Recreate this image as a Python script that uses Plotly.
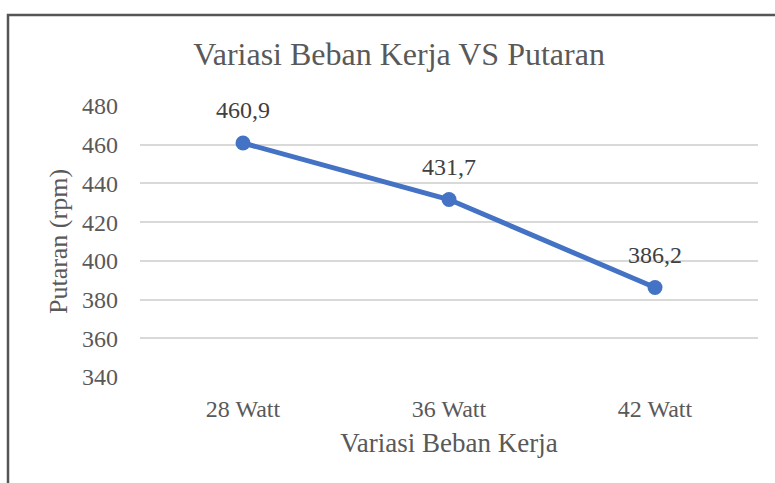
import plotly.graph_objects as go

categories = ["28 Watt", "36 Watt", "42 Watt"]
putaran = [460.9, 431.7, 386.2]
y_ticks = [340, 360, 380, 400, 420, 440, 460, 480]

txt = "#595959"
font = "'Liberation Serif', 'Times New Roman', Times, 'DejaVu Serif', serif"
fig = go.Figure()
fig.add_trace(go.Scatter(
    x=categories, y=putaran, mode="lines+markers",
    line=dict(color="#4472C4", width=5),
    marker=dict(size=15, color="#4472C4"),
    hoverinfo="skip", showlegend=False,
))
for c, v in zip(categories, putaran):
    fig.add_annotation(x=c, y=v, text=f"{v:.1f}".replace(".", ","),
                       showarrow=False, yshift=33,
                       font=dict(family=font, size=24, color="#404040"))

# outer frame (left and top edges)
fig.add_shape(type="path", xref="paper", yref="paper",
              path=f"M {(8-140)/618} {-(483-377)/271} L {(8-140)/618} {(377-15)/271} L {(775-140)/618} {(377-15)/271}",
              line=dict(color="#555555", width=2.5))

fig.update_layout(
    width=775, height=483,
    margin=dict(l=140, r=17, t=106, b=106),
    paper_bgcolor="white", plot_bgcolor="white",
    font=dict(family=font, color=txt),
    title=dict(text="Variasi Beban Kerja VS Putaran", x=399/775, xanchor="center",
               y=1 - 54/483, yanchor="middle",
               font=dict(family=font, size=32, color=txt)),
    xaxis=dict(type="category", range=[-0.5, 2.5], showgrid=False, zeroline=False,
               showline=False, ticks="", ticklabelstandoff=15, automargin=False,
               tickfont=dict(family=font, size=24, color=txt),
               title=dict(text="Variasi Beban Kerja", standoff=12,
                          font=dict(family=font, size=27, color=txt))),
    yaxis=dict(range=[340, 480], tickvals=y_ticks, showgrid=True, gridcolor="#d9d9d9",
               gridwidth=1.5, zeroline=False, showline=False, ticks="",
               ticklabelstandoff=21, automargin=False,
               tickfont=dict(family=font, size=24, color=txt),
               title=dict(text="Putaran (rpm)", standoff=6,
                          font=dict(family=font, size=26, color=txt))),
)
fig.write_html("out.html", config={"displayModeBar": False},
               post_script="document.body.style.margin='0px';")
